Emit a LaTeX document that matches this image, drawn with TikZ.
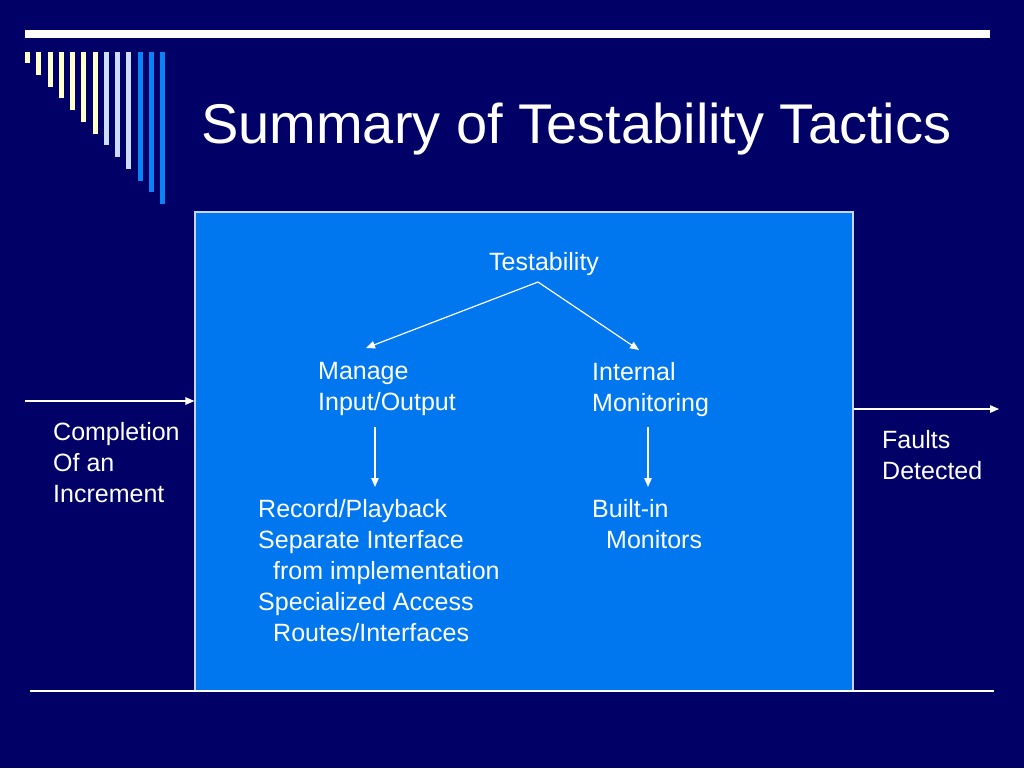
\documentclass[tikz,border=0pt]{standalone}
\usepackage{fontspec}
\setmainfont{Liberation Sans}
\usepackage{tikz}
\usetikzlibrary{positioning,calc,arrows.meta}
\definecolor{navy}      {HTML}{000066}
\definecolor{panelblue} {HTML}{0077EE}
\definecolor{rim}       {HTML}{C8D4F0}
\definecolor{cream}     {HTML}{FFFFCC}
\definecolor{iceblue}   {HTML}{CCDDFF}
\definecolor{brightblue}{HTML}{0A84F5}
\tikzset{
  every node/.style={text=white, inner sep=0pt},
  % --- nodes
  title/.style = {anchor=base west, font=\fontsize{56}{66}\selectfont},
  % first baseline sits near the given point
  txt/.style   = {anchor=north west, align=left, yshift=17.5pt,
                  execute at begin node=\strut,
                  font=\fontsize{25}{30.8}\selectfont},
  panel/.style = {draw=rim, line width=1.2pt, fill=panelblue,
                  minimum width=658pt, minimum height=479pt},
  % --- edges
  arr/.style   = {-{Triangle[length=9pt,width=7.5pt]}, draw=white, line width=1.2pt},
  rule/.style  = {draw=white, line width=1.2pt},
}

\begin{document}
\begin{tikzpicture}[x=1pt,y=-1pt]
  \fill[navy] (0,0) rectangle (1024,768);
  \useasboundingbox (0,0) rectangle (1024,768);

  % title bar and bars
  \fill[white] (25,30) rectangle (990,38);
  \foreach \i/\c in {0/cream,1/cream,2/cream,3/cream,4/cream,5/cream,6/cream,
                     7/iceblue,8/iceblue,9/iceblue,
                     10/brightblue,11/brightblue,12/brightblue} {
    \fill[\c] ({25+11.25*\i},52) rectangle ({30+11.25*\i},{63+11.75*\i});
  }
  \node[title] (head) at (201,143) {Summary of Testability Tactics};

  % panel
  \node[panel] (tactics) at (524,451.5) {};
  \draw[rule] (30,691) -- (994,691);

  \node[txt] (testab) at (489,266) {Testability};
  \node[txt] (mio)    at (318,380) {Manage\\Input/Output};
  \node[txt] (imon)   at (592,380) {Internal\\Monitoring};
  \node[txt] (miolist) at (258,517) {Record/Playback\\Separate Interface\\
    \hspace*{15pt}from implementation\\Specialized Access\\
    \hspace*{15pt}Routes/Interfaces};
  \node[txt] (imonlist) at (592,517) {Built-in\\\hspace*{14pt}Monitors};

  \coordinate (apex)   at (538,282);
  \coordinate (mioin)  at (366,348);
  \coordinate (imonin) at (639,350);
  \coordinate (mioout) at (375,427);
  \coordinate (miolin) at (375,487);
  \coordinate (imonout) at (648,427);
  \coordinate (imonlin) at (648,487);
  \draw[arr] (apex) -- (mioin);
  \draw[arr] (apex) -- (imonin);
  \draw[arr] (mioout) -- (miolin);
  \draw[arr] (imonout) -- (imonlin);

  % stimulus and response
  \coordinate (stim) at (25,401);
  \coordinate (resp) at (999,409);
  \draw[arr] (stim) -- (stim -| tactics.west);
  \draw[arr] (tactics.east |- resp) -- (resp);
  \node[txt] (incr)   at (53,440)  {Completion\\Of an\\Increment};
  \node[txt] (faults) at (882,448) {Faults\\Detected};
\end{tikzpicture}
\end{document}
